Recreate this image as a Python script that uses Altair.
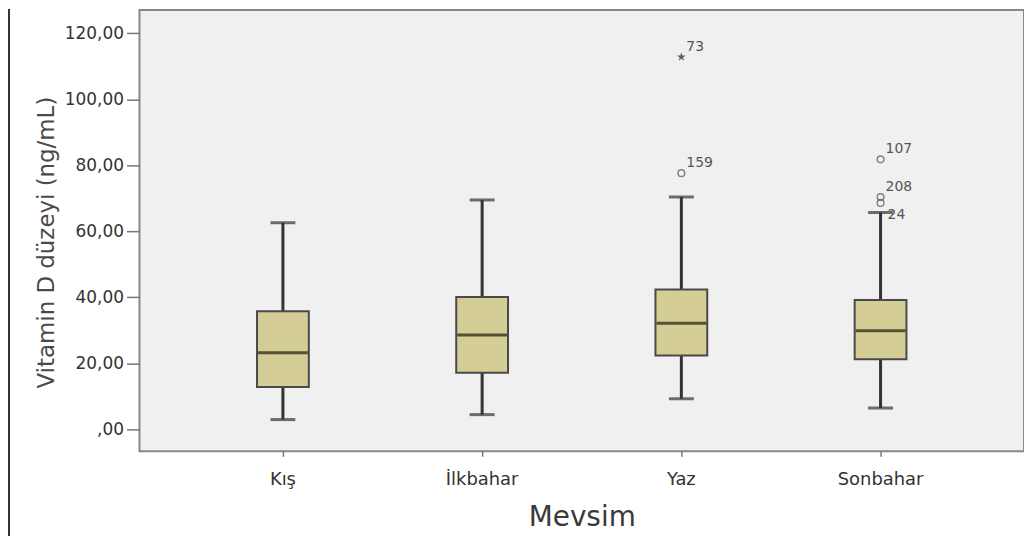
import altair as alt
import pandas as pd

# ---- data ----
seasons = ["Kış", "İlkbahar", "Yaz", "Sonbahar"]
whisker_low = [3.0, 4.5, 9.3, 6.5]
q1 = [12.9, 17.2, 22.4, 21.3]
median = [23.2, 28.6, 32.2, 29.9]
q3 = [35.8, 40.1, 42.4, 39.2]
whisker_high = [62.6, 69.5, 70.4, 65.7]

outlier_season = ["Yaz", "Yaz", "Sonbahar", "Sonbahar", "Sonbahar"]
outlier_value = [112.8, 77.6, 81.8, 70.4, 68.6]
outlier_id = ["73", "159", "107", "208", "24"]
outlier_kind = ["extreme", "outlier", "outlier", "outlier", "outlier"]

y_ticks = [0, 20, 40, 60, 80, 100, 120]

stats = pd.DataFrame({
    "season": seasons, "lo": whisker_low, "q1": q1, "med": median,
    "q3": q3, "hi": whisker_high,
})
outs = pd.DataFrame({
    "season": outlier_season, "value": outlier_value,
    "label": outlier_id, "kind": outlier_kind,
})

STAR = ("M0,-1L0.2245,-0.309L0.951,-0.309L0.363,0.118L0.588,0.809L0,0.382"
        "L-0.588,0.809L-0.363,0.118L-0.951,-0.309L-0.2245,-0.309Z")

FONT = "DejaVu Sans"
x_enc = alt.X(
    "season:N", sort=seasons,
    scale=alt.Scale(paddingInner=0, paddingOuter=0.22),
    axis=alt.Axis(
        orient="bottom",
        title="Mevsim", labelAngle=0, domain=False, ticks=True, tickSize=5,
        tickColor="#777777", tickWidth=1.5, labelFont=FONT, labelFontSize=18,
        labelColor="#333333", labelPadding=14, titleFont=FONT,
        titleFontSize=28, titleFontWeight="normal", titleColor="#3a3a3a",
        titlePadding=16,
    ),
)
y_scale = alt.Scale(domain=[-6.6, 127], nice=False, zero=False)
y_axis = alt.Axis(
    orient="left",
    title="Vitamin D düzeyi (ng/mL)", values=y_ticks, grid=False, domain=False,
    tickSize=13, tickColor="#777777", tickWidth=1.5, labelFont=FONT,
    labelFontSize=17, labelColor="#333333", labelPadding=3,
    labelExpr="datum.value == 0 ? ',00' : replace(format(datum.value, '.2f'), '.', ',')",
    titleFont=FONT, titleFontSize=23, titleFontWeight="normal",
    titleColor="#4a4a4a", titlePadding=6, titleY=233,
)

base = alt.Chart(stats).encode(x=x_enc)

lower = base.mark_rule(color="#333333", strokeWidth=3).encode(
    y=alt.Y("lo:Q", scale=y_scale, axis=y_axis), y2="q1:Q")
upper = base.mark_rule(color="#333333", strokeWidth=3).encode(
    y=alt.Y("q3:Q"), y2="hi:Q")
cap_lo = base.mark_tick(color="#333333", size=25, thickness=3).encode(y="lo:Q")
cap_hi = base.mark_tick(color="#333333", size=25, thickness=3).encode(y="hi:Q")
box = base.mark_bar(size=52, fill="#d5cd96", stroke="#4a4a4a",
                    strokeWidth=2).encode(y="q1:Q", y2="q3:Q")
med = base.mark_tick(color="#1e1c0c", size=50, thickness=3).encode(y="med:Q")

obase = alt.Chart(outs).encode(x=alt.X("season:N", sort=seasons), y="value:Q")
circles = obase.transform_filter(alt.datum.kind == "outlier").mark_point(
    shape="circle", filled=False, size=45, color="#555555", strokeWidth=1.5)
stars = obase.transform_filter(alt.datum.kind == "extreme").mark_point(
    shape=STAR, filled=True, size=85, color="#222222")
labels_up = obase.transform_filter(alt.datum.label != "24").mark_text(
    align="left", dx=5, dy=-10, font=FONT, fontSize=14, color="#555555"
).encode(text="label:N")
labels_down = obase.transform_filter(alt.datum.label == "24").mark_text(
    align="left", dx=7, dy=12, font=FONT, fontSize=14, color="#555555"
).encode(text="label:N")

# left edge of the picture frame
frame_left = alt.Chart(stats).mark_rule(color="#333333", strokeWidth=2).encode(
    x=alt.value(-131), y=alt.value(-1), y2=alt.value(528))

chart = alt.layer(
    frame_left, lower, upper, cap_lo, cap_hi, box, med, circles, stars,
    labels_up, labels_down
).properties(
    width=888, height=443,
    autosize=alt.AutoSizeParams(type="none"),
    padding={"left": 132, "top": 1, "right": 0, "bottom": 84},
    background="white",
).configure_view(
    fill="#f0f0f0", stroke="#888888", strokeWidth=2,
)

chart.save("out.html", embed_options={"renderer": "svg", "actions": False})
